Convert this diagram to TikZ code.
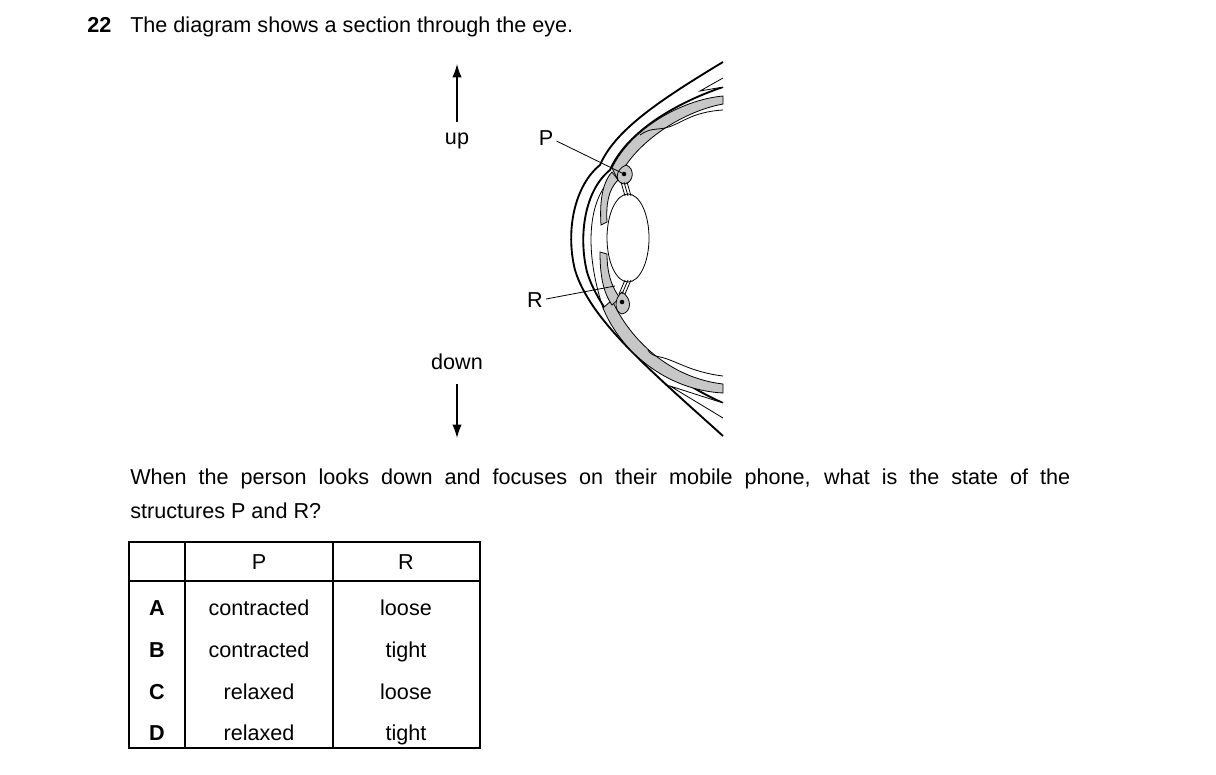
\documentclass[tikz,border=0pt]{standalone}
\usepackage{fontspec}
\setmainfont{Liberation Sans}
\usetikzlibrary{arrows,arrows.meta}

\begin{document}
\begin{tikzpicture}[x=0.75pt,y=-0.75pt,>=stealth',
  txt/.style={font=\fontsize{16.2}{20}\selectfont,inner sep=0pt,text height=8.5pt,text depth=2.5pt},
  band/.style={fill=black!22,draw=black,line width=0.6pt},
  thin line/.style={draw=black,line width=0.6pt},
  lid/.style={draw=black,line width=1.4pt},
  dir arrow/.style={-{Latex[length=10pt,width=7pt]},line width=1pt}]
  \useasboundingbox (0,0) rectangle (1216,774);

  % question
  \node[txt,anchor=west] (num) at (87,29) {\textbf{22}};
  \node[txt,anchor=west] (qtext) at (130,29) {The diagram shows a section through the eye.};

  % direction arrows
  \node[txt] (up) at (457,140) {up};
  \node[txt] (down) at (457,365) {down};
  \coordinate (uptip) at (457,64);
  \coordinate (downtip) at (457,438);
  \draw[dir arrow] (457,122) -- (uptip);
  \draw[dir arrow] (457,384) -- (downtip);

  % eyelids
  \draw[lid] (723,62) .. controls (660,100) and (615,130) .. (600,165)
     .. controls (575,185) and (565,230) .. (575,270)
     .. controls (590,320) and (650,370) .. (723,436);
  \draw[lid] (723,87) .. controls (670,105) and (625,135) .. (610,170)
     .. controls (585,190) and (578,235) .. (587,272)
     .. controls (600,315) and (650,370) .. (723,403);
  \draw[thin line,fill=white] (723,78) -- (700,91) -- (723,87);
  \draw[thin line,fill=white] (723,418) -- (670,386) -- (723,403);

  % sclera and cornea
  \draw[band] (723,96) .. controls (680,100) and (630,130) .. (612,168)
     -- (618,180) .. controls (632,145) and (680,112) .. (723,104) -- cycle;
  \draw[band] (612,300) .. controls (630,340) and (670,378) .. (723,384)
     -- (723,393) .. controls (665,390) and (620,350) .. (603,308) -- cycle;
  \draw[thin line] (612,178) .. controls (588,200) and (584,250) .. (603,308);
  \draw[thin line] (723,110) .. controls (690,112) and (680,125) .. (665,128)
     .. controls (655,130) and (650,128) .. (640,135);
  \draw[thin line] (723,376) .. controls (690,372) and (675,360) .. (660,357)
     .. controls (654,356) and (650,354) .. (648,350);

  % iris
  \draw[band] (612,172) .. controls (600,185) and (600,210) .. (601,225)
     -- (607,222) .. controls (606,205) and (608,190) .. (618,180) -- cycle;
  \draw[band] (600,252) .. controls (600,275) and (603,292) .. (612,305)
     -- (620,298) .. controls (610,285) and (607,270) .. (607,254) -- cycle;

  % ciliary bodies
  \draw[band] (626,165) .. controls (635,168) and (634,182) .. (625,184)
     .. controls (615,184) and (614,170) .. (626,165);
  \node[circle,fill=black,inner sep=1.2pt] (P) at (624,174) {};
  \draw[band] (622,292) .. controls (632,298) and (632,312) .. (622,314)
     .. controls (614,312) and (614,298) .. (622,292);
  \node[circle,fill=black,inner sep=1.2pt] (R) at (622,302) {};

  % lens and suspensory ligaments
  \draw[thin line,fill=white] (628,238) ellipse [x radius=21,y radius=44];
  \foreach \dx in {-3,0,3}
    \draw[thin line] (P) ++(\dx,8) -- (628+\dx,196);
  \foreach \dx in {-3,0,3}
    \draw[thin line] (R) ++(\dx,-8) -- (628+\dx,280);

  % labels P and R
  \node[txt] (lP) at (546,141) {P};
  \node[txt] (lR) at (535,303) {R};
  \draw[thin line] (lP.east) ++(3,0) -- (P);
  \draw[thin line] (lR.east) ++(3,-4) -- (615,286);

  % question text
  \node[anchor=north west,inner sep=0pt,font=\fontsize{16.2}{25.5}\selectfont,
        text width=705pt,align=justify] (para) at (130,469)
    {When the person looks down and focuses on their mobile phone, what is the state of the\linebreak structures P and R?};

  % table
  \draw[line width=0.8pt] (129,542) rectangle (480,748);
  \draw[line width=0.8pt] (185,542) -- (185,748);
  \draw[line width=0.8pt] (333,542) -- (333,748);
  \draw[line width=0.8pt] (129,581) -- (480,581);
  \node[txt] (hP) at (259,565) {P};
  \node[txt] (hR) at (406,565) {R};
  \foreach \k/\y/\p/\r in {A/611/contracted/loose,B/653/contracted/tight,
                           C/695/relaxed/loose,D/736/relaxed/tight} {
    \node[txt] (row\k) at (157,\y) {\textbf{\k}};
    \node[txt] (p\k) at (259,\y) {\p};
    \node[txt] (r\k) at (406,\y) {\r};
  }
\end{tikzpicture}
\end{document}
